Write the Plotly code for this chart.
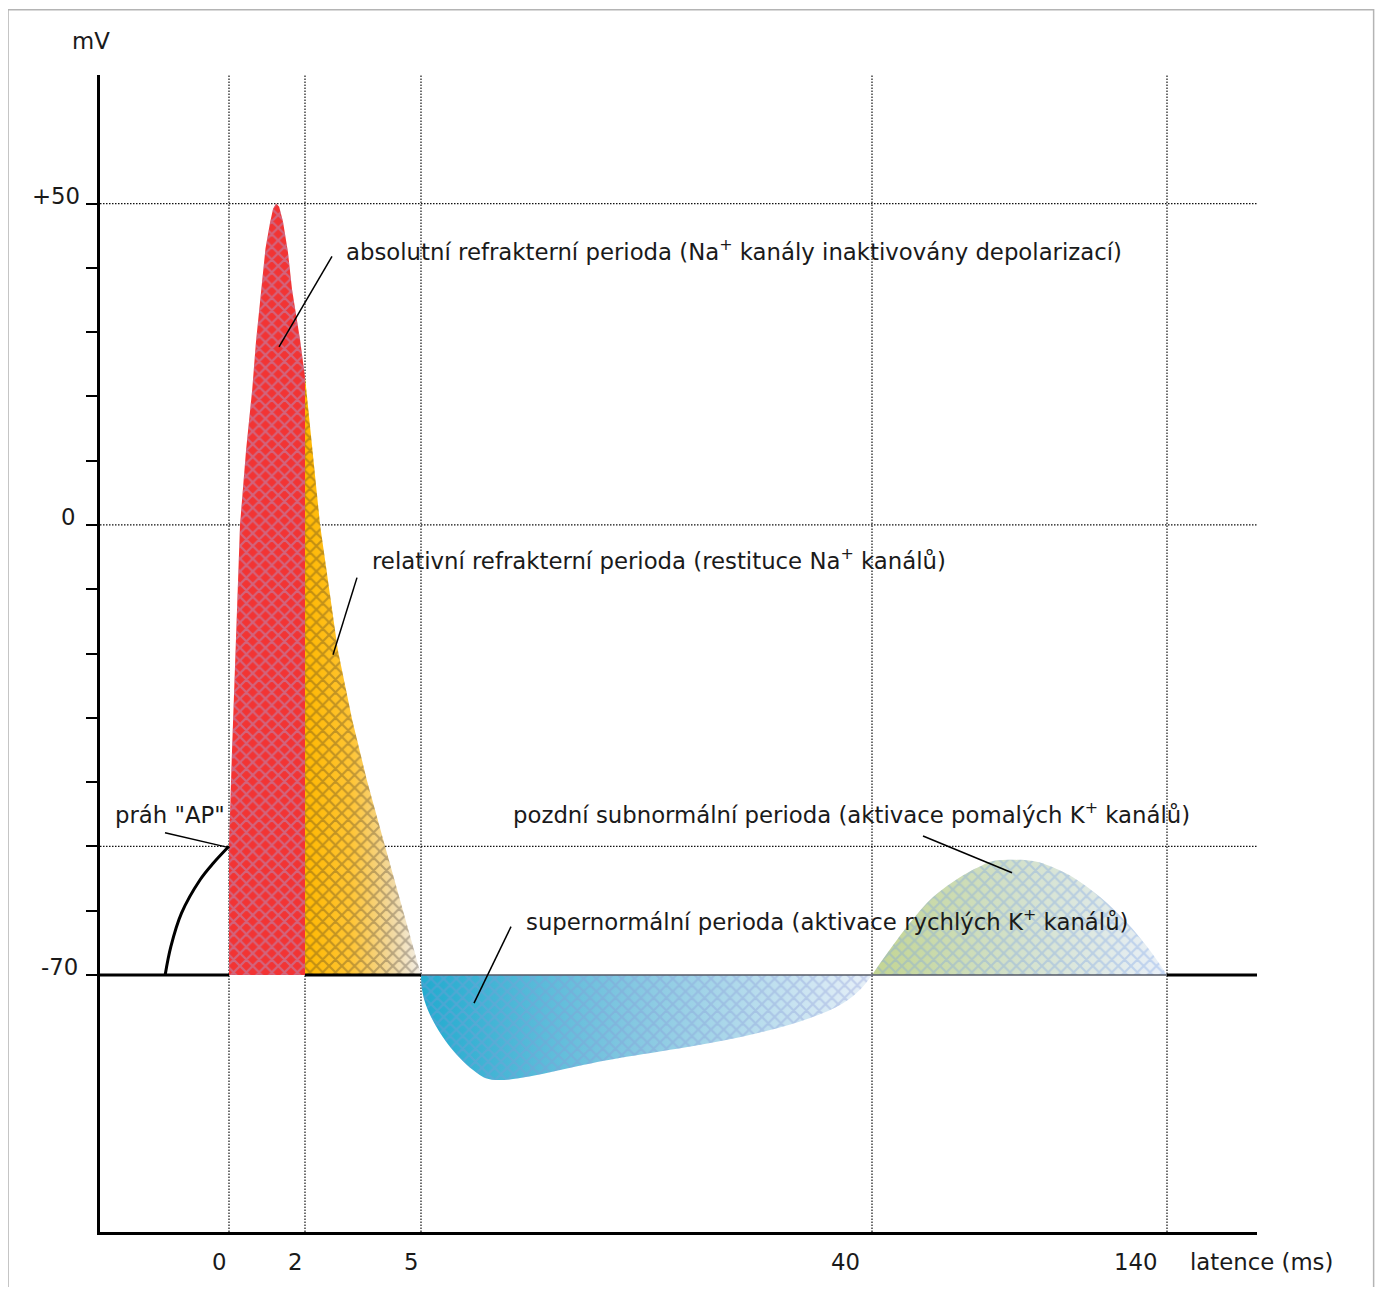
import numpy as np
import plotly.graph_objects as go

# ---------------- data ----------------
tick_ms = [0, 2, 5, 40, 140]
tick_labels = ["0", "2", "5", "40", "140"]
tick_pos = [0, 76, 192, 643, 938]   # schematic (non-linear) axis position of each time tick

ytick_vals = list(range(-70, 51, 10))
ylabel_vals = [50, 0, -70]
ylabel_text = ["+50", "0", "-70"]
grid_mv = [50, 0, -50]
rest_mv = -70

# sub-threshold depolarisation (before 0 ms)
pre_ms = [-1.68, -1.53, -1.25, -0.76, -0.41, 0]
pre_mv = [-70, -65.6, -60.4, -55.2, -52.6, -50]

# action potential spike
ap_ms = [0, 0.08, 0.18, 0.29, 0.45, 0.61, 0.71, 0.84, 0.96, 1.08, 1.16, 1.24, 1.32, 1.42,
         1.55, 1.66, 1.87, 2.0, 2.39, 2.85, 3.22, 3.6, 4.07, 5.0]
ap_mv = [-50, -35, -19.5, 0, 11.7, 21, 28.5, 36.5, 43.0, 47, 49.2, 50, 49.5, 47.2,
         42.5, 36.6, 28.8, 23, 0, -19.5, -30.3, -39.7, -50, -70]

# supernormal period (after-hyperpolarisation)
sn_ms = [5, 5.08, 5.54, 7.02, 9.04, 10.5, 19.67, 29.99, 35.19, 37.75, 39.07, 40]
sn_mv = [-70, -72.3, -75.5, -80.6, -84.8, -86.3, -83.2, -79.6, -76.7, -74.4, -72.3, -70]

# late subnormal period (hump)
hump_ms = [40, 46.8, 52.9, 60.7, 69.8, 77.6, 81.0, 87.8, 94.6, 99.3, 108.1, 117.3, 126.4, 133.2, 140]
hump_mv = [-70, -65.6, -61.9, -57.9, -54.8, -52.9, -52.3, -52.1, -52.3, -52.9, -54.8, -57.9, -61.9, -65.6, -70]

labels = {
    "abs": "absolutní refrakterní perioda (Na<sup>+</sup> kanály inaktivovány depolarizací)",
    "rel": "relativní refrakterní perioda (restituce Na<sup>+</sup> kanálů)",
    "late": "pozdní subnormální perioda (aktivace pomalých K<sup>+</sup> kanálů)",
    "super": "supernormální perioda (aktivace rychlých K<sup>+</sup> kanálů)",
    "thr": "práh \"AP\"",
}

# ---------------- helpers ----------------
def pos(ms):
    ms = np.asarray(ms, float)
    p = np.interp(ms, tick_ms, tick_pos)
    slope0 = (tick_pos[1] - tick_pos[0]) / (tick_ms[1] - tick_ms[0])
    return np.where(ms < tick_ms[0], tick_pos[0] + (ms - tick_ms[0]) * slope0, p)

X_RANGE = [-129, 1028]
Y_RANGE = [-110, 70]
FONT = "DejaVu Sans"
FS = 22.8
TXT = "#1a1a1a"

fig = go.Figure()

def region(xs_ms, ys, grad, pat_color, shape="linear", pat_size=9, solidity=0.42):
    x = pos(xs_ms)
    fig.add_trace(go.Scatter(
        x=x, y=ys, mode="lines", fill="toself", line=dict(width=0, shape=shape),
        fillgradient=dict(type="horizontal", colorscale=grad),
        hoverinfo="skip", showlegend=False))
    fig.add_trace(go.Scatter(
        x=x, y=ys, mode="lines", fill="toself", line=dict(width=0, shape=shape),
        fillcolor="rgba(0,0,0,0)",
        fillpattern=dict(shape="x", fgcolor=pat_color, bgcolor="rgba(0,0,0,0)",
                         size=pat_size, solidity=solidity),
        hoverinfo="skip", showlegend=False))

ap_ms_a = np.array(ap_ms)
ap_mv_a = np.array(ap_mv)
k2 = ap_ms_a <= tick_ms[1]
red_x = [tick_ms[0]] + list(ap_ms_a[k2]) + [tick_ms[1]]
red_y = [rest_mv] + list(ap_mv_a[k2]) + [rest_mv]
o2 = ap_ms_a >= tick_ms[1]
or_x = [tick_ms[1]] + list(ap_ms_a[o2])
or_y = [rest_mv] + list(ap_mv_a[o2])

region(red_x, red_y, [[0, "#f23434"], [1, "#f23434"]], "rgba(168,160,214,0.9)")
region(or_x, or_y, [[0, "#ffb800"], [0.4, "#ffc535"], [0.75, "#f2d9a0"], [1, "#f3efe8"]],
       "rgba(50,40,35,0.6)")
region(sn_ms, sn_mv, [[0, "#22abcf"], [0.45, "#80c6e0"], [1, "#e8f0f8"]],
       "rgba(135,150,215,0.7)", shape="spline")
region(hump_ms, hump_mv, [[0, "#c3d592"], [0.5, "#d3e1cc"], [1, "#e9f0f9"]],
       "rgba(120,160,230,0.7)", shape="spline")

# baseline at resting potential
def seg(x0, x1, width, color):
    fig.add_trace(go.Scatter(x=[x0, x1], y=[rest_mv, rest_mv], mode="lines",
                             line=dict(color=color, width=width),
                             hoverinfo="skip", showlegend=False))

p = pos(tick_ms)
seg(X_RANGE[0], p[0], 3, "black")
seg(p[1], p[2], 3, "black")
seg(p[2], p[4], 1.5, "#555a66")
seg(p[4], X_RANGE[1], 3, "black")

# threshold depolarisation curve
fig.add_trace(go.Scatter(x=pos(pre_ms), y=pre_mv, mode="lines",
                         line=dict(color="black", width=3, shape="spline"),
                         hoverinfo="skip", showlegend=False))

shapes = []
DOT = dict(color="#111111", width=1.2, dash="1.5px,1.5px")
for xp in p:
    shapes.append(dict(type="line", xref="x", yref="y domain", x0=xp, x1=xp, y0=0, y1=1,
                       line=DOT, layer="below"))
for gv in grid_mv:
    shapes.append(dict(type="line", xref="x domain", yref="y", x0=0, x1=1, y0=gv, y1=gv,
                       line=DOT, layer="below"))

# leader lines (position units, mV)
leaders = [((103, 41.8), (50, 27.7)),
           ((128, -8.2), (104, -20.2)),
           ((-64, -47.9), (0, -50.2)),
           ((694, -48.4), (783, -54.1)),
           ((282, -62.5), (245, -74.4))]
for (a, b) in leaders:
    shapes.append(dict(type="line", xref="x", yref="y", x0=a[0], y0=a[1], x1=b[0], y1=b[1],
                       line=dict(color="black", width=1.5), layer="above"))

# outer frame
shapes.append(dict(type="rect", xref="paper", yref="paper", x0=-0.0795, x1=1.1008,
                   y0=-0.06, y1=1.0565, line=dict(color="#b4b4b4", width=1.5),
                   fillcolor="rgba(0,0,0,0)", layer="below"))

ann = []
def txt(x, y, t, xa="left", ya="middle", xs=0, ys=0, xref="x", yref="y"):
    ann.append(dict(x=x, y=y, xref=xref, yref=yref, text=t, showarrow=False,
                    xanchor=xa, yanchor=ya, xshift=xs, yshift=ys,
                    font=dict(family=FONT, size=FS, color=TXT)))

txt(115, 42.8, labels["abs"])
txt(141, -5.3, labels["rel"])
txt(282, -44.8, labels["late"])
txt(295, -61.4, labels["super"])
txt(-116, -45.1, labels["thr"])
txt(0, 1, "mV", xa="center", xref="paper", yref="paper", xs=-9, ys=34)
for v, t, s in zip(ylabel_vals, ylabel_text, [-18, -22, -20]):
    txt(0, v, t, xa="right", xref="paper", xs=s, ys=8)
x_shift = [0, 0, 0, -10, -7]
for xp, t, s in zip(p, tick_labels, x_shift):
    txt(xp, Y_RANGE[0], t, xa="right", ya="middle", xs=s, ys=-30)
txt(959, Y_RANGE[0], "latence (ms)", xa="left", ys=-30)

fig.update_layout(
    width=1375, height=1279,
    margin=dict(l=92, r=126, t=67, b=55),
    plot_bgcolor="white", paper_bgcolor="white",
    showlegend=False, shapes=shapes, annotations=ann,
    font=dict(family=FONT, size=FS, color=TXT),
    xaxis=dict(range=X_RANGE, showgrid=False, zeroline=False, showline=True,
               linewidth=3, linecolor="black", showticklabels=False, ticks=""),
    yaxis=dict(range=Y_RANGE, tickvals=ytick_vals, ticks="outside", ticklen=11,
               tickwidth=1.5, tickcolor="black", showticklabels=False,
               showline=True, linewidth=3, linecolor="black",
               showgrid=False, zeroline=False),
)

fig.write_html("out.html")
